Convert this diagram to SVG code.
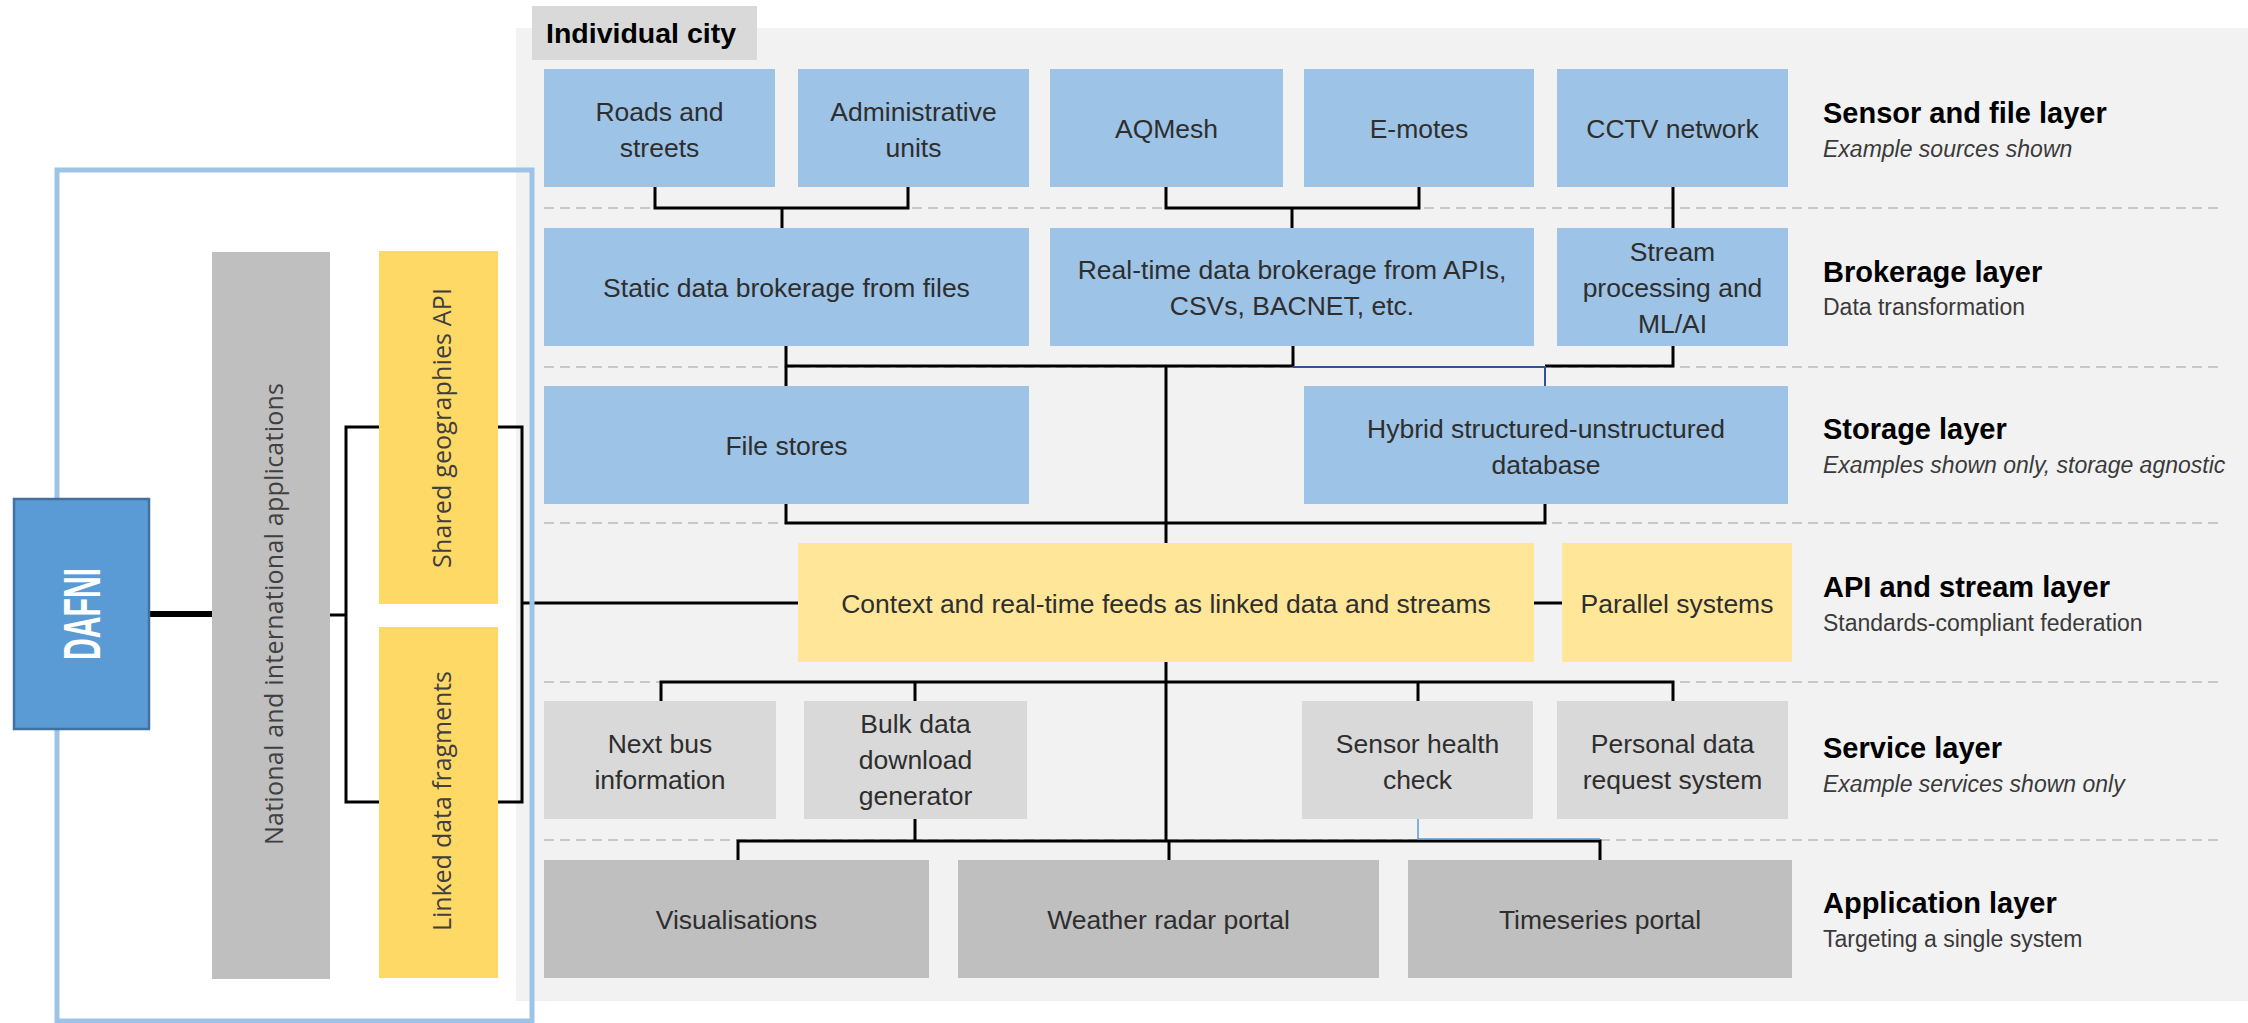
<svg xmlns="http://www.w3.org/2000/svg" width="2248" height="1023" viewBox="0 0 2248 1023">
<style>
.bx{font-family:"Liberation Sans",Arial,sans-serif;font-size:26.5px;fill:#2e2e2e;text-anchor:middle}
.ttl{font-family:"Liberation Sans",Arial,sans-serif;font-size:29px;font-weight:bold;fill:#000}
.sub{font-family:"Liberation Sans",Arial,sans-serif;font-size:23px;fill:#3a3a3a}
.it{font-style:italic}
.rot{font-family:"Open Sans","Liberation Sans",sans-serif;font-size:25px;fill:#3f3f3f;text-anchor:middle}
.blue{fill:#9dc3e6}
.yel{fill:#ffe699}
.yel2{fill:#ffd966}
.svc{fill:#d9d9d9}
.app{fill:#bfbfbf}
.ln{fill:none;stroke:#000;stroke-width:3}
.dash{fill:none;stroke:#c8c8c8;stroke-width:2;stroke-dasharray:10 6}
</style>
<rect x="0" y="0" width="2248" height="1023" fill="#fff"/>
<rect id="panel" x="516" y="28" width="1732" height="973" fill="#f2f2f2"/>
<g id="separators">
<path class="dash" d="M544,208H2222M544,367H2222M544,523H2222M544,682H2222M544,840H2222"/>
</g>
<g id="individual-city"><rect x="532" y="6" width="225" height="54" fill="#d9d9d9"/><text x="546" y="43" style="font-family:'Liberation Sans',Arial,sans-serif;font-size:28.5px;font-weight:bold;fill:#000">Individual city</text></g>

<g id="connectors">
<path class="ln" d="M655,187V208H908V187M782,208V228"/>
<path class="ln" d="M1166,187V208H1419V187M1292,208V228"/>
<path class="ln" d="M1673,187V228"/>
<path class="ln" d="M786,346V386M786,366H1293V346M1673,346V366H1545"/>
<path fill="none" stroke="#2f5496" stroke-width="2" d="M1293,367H1545V386"/>
<path class="ln" d="M1166,366V543"/>
<path class="ln" d="M786,504V523H1545V504"/>
<path class="ln" d="M1166,662V842"/>
<path class="ln" d="M661,701V682H1673V701M915,682V701M1418,682V701"/>
<path class="ln" d="M915,819V841M738,860V841H1600V860M1169,841V860"/>
<path fill="none" stroke="#5b9bd5" stroke-width="1.5" d="M1418,819V839H1600"/>
<path class="ln" d="M1534,603H1562"/>
<path class="ln" d="M522,603H798"/>
<path class="ln" d="M379,427H346V802H379M498,427H522V802H498"/>
<path class="ln" d="M330,615H346"/>
<path fill="none" stroke="#000" stroke-width="6" d="M149,614H212"/>
</g>

<g id="roads"><rect class="blue" x="544" y="69" width="231" height="118"/><text class="bx" x="659.5" y="121">Roads and</text><text class="bx" x="659.5" y="157">streets</text></g>
<g id="admin"><rect class="blue" x="798" y="69" width="231" height="118"/><text class="bx" x="913.5" y="121">Administrative</text><text class="bx" x="913.5" y="157">units</text></g>
<g id="aqmesh"><rect class="blue" x="1050" y="69" width="233" height="118"/><text class="bx" x="1166.5" y="138">AQMesh</text></g>
<g id="emotes"><rect class="blue" x="1304" y="69" width="230" height="118"/><text class="bx" x="1419" y="138">E-motes</text></g>
<g id="cctv"><rect class="blue" x="1557" y="69" width="231" height="118"/><text class="bx" x="1672.5" y="138">CCTV network</text></g>

<g id="static"><rect class="blue" x="544" y="228" width="485" height="118"/><text class="bx" x="786.5" y="297">Static data brokerage from files</text></g>
<g id="realtime"><rect class="blue" x="1050" y="228" width="484" height="118"/><text class="bx" x="1292" y="279">Real-time data brokerage from APIs,</text><text class="bx" x="1292" y="315">CSVs, BACNET, etc.</text></g>
<g id="stream"><rect class="blue" x="1557" y="228" width="231" height="118"/><text class="bx" x="1672.5" y="261">Stream</text><text class="bx" x="1672.5" y="297">processing and</text><text class="bx" x="1672.5" y="333">ML/AI</text></g>

<g id="filestores"><rect class="blue" x="544" y="386" width="485" height="118"/><text class="bx" x="786.5" y="455">File stores</text></g>
<g id="hybrid"><rect class="blue" x="1304" y="386" width="484" height="118"/><text class="bx" x="1546" y="438">Hybrid structured-unstructured</text><text class="bx" x="1546" y="474">database</text></g>

<g id="context"><rect class="yel" x="798" y="543" width="736" height="119"/><text class="bx" x="1166" y="613">Context and real-time feeds as linked data and streams</text></g>
<g id="parallel"><rect class="yel" x="1562" y="543" width="230" height="119"/><text class="bx" x="1677" y="613">Parallel systems</text></g>

<g id="nextbus"><rect class="svc" x="544" y="701" width="232" height="118"/><text class="bx" x="660" y="753">Next bus</text><text class="bx" x="660" y="789">information</text></g>
<g id="bulk"><rect class="svc" x="804" y="701" width="223" height="118"/><text class="bx" x="915.5" y="733">Bulk data</text><text class="bx" x="915.5" y="769">download</text><text class="bx" x="915.5" y="805">generator</text></g>
<g id="sensorhealth"><rect class="svc" x="1302" y="701" width="231" height="118"/><text class="bx" x="1417.5" y="753">Sensor health</text><text class="bx" x="1417.5" y="789">check</text></g>
<g id="personal"><rect class="svc" x="1557" y="701" width="231" height="118"/><text class="bx" x="1672.5" y="753">Personal data</text><text class="bx" x="1672.5" y="789">request system</text></g>

<g id="visualisations"><rect class="app" x="544" y="860" width="385" height="118"/><text class="bx" x="736.5" y="929">Visualisations</text></g>
<g id="weather"><rect class="app" x="958" y="860" width="421" height="118"/><text class="bx" x="1168.5" y="929">Weather radar portal</text></g>
<g id="timeseries"><rect class="app" x="1408" y="860" width="384" height="118"/><text class="bx" x="1600" y="929">Timeseries portal</text></g>

<g id="layer-labels">
<text class="ttl" x="1823" y="123">Sensor and file layer</text><text class="sub it" x="1823" y="157">Example sources shown</text>
<text class="ttl" x="1823" y="282">Brokerage layer</text><text class="sub" x="1823" y="315">Data transformation</text>
<text class="ttl" x="1823" y="439">Storage layer</text><text class="sub it" x="1823" y="473">Examples shown only, storage agnostic</text>
<text class="ttl" x="1823" y="597">API and stream layer</text><text class="sub" x="1823" y="631">Standards-compliant federation</text>
<text class="ttl" x="1823" y="758">Service layer</text><text class="sub it" x="1823" y="792">Example services shown only</text>
<text class="ttl" x="1823" y="913">Application layer</text><text class="sub" x="1823" y="947">Targeting a single system</text>
</g>

<g id="national"><rect class="app" x="212" y="252" width="118" height="727"/><text class="rot" transform="translate(283,614) rotate(-90)" textLength="462">National and international applications</text></g>
<g id="shared"><rect class="yel2" x="379" y="251" width="119" height="353"/><text class="rot" transform="translate(451,428) rotate(-90)" textLength="280">Shared geographies API</text></g>
<g id="linked"><rect class="yel2" x="379" y="627" width="119" height="351"/><text class="rot" transform="translate(451,801) rotate(-90)" textLength="260">Linked data fragments</text></g>

<rect id="frame" x="57" y="170" width="475" height="851" fill="none" stroke="#9dc3e6" stroke-width="5"/>
<g id="dafni"><rect x="14" y="499" width="135" height="230" fill="#5b9bd5" stroke="#41719c" stroke-width="2.5"/><text transform="translate(100,614) rotate(-90)" text-anchor="middle" textLength="92" lengthAdjust="spacingAndGlyphs" style="font-family:'Liberation Sans',Arial,sans-serif;font-size:52px;font-weight:bold;fill:#fff">DAFNI</text></g>
</svg>
